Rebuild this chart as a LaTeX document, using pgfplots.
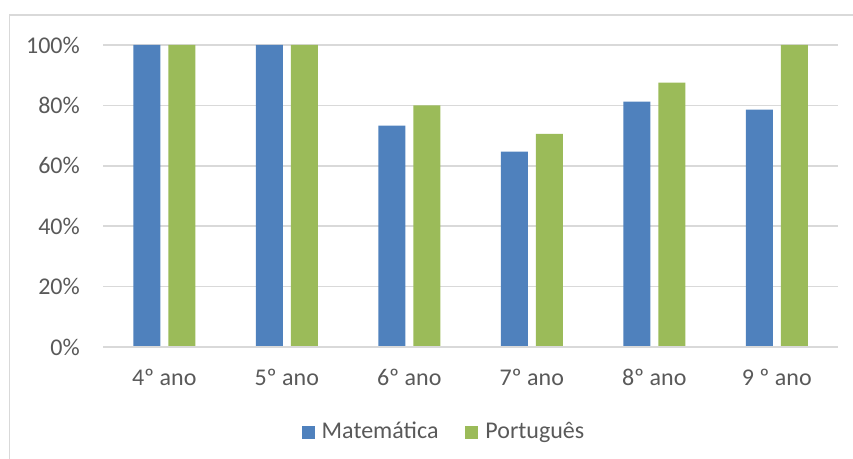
\documentclass[border=0pt]{standalone}
\usepackage{pgfplots}
\pgfplotsset{compat=1.18}
\usepackage{fontspec}
\setmainfont{Carlito}
\definecolor{mblue}{HTML}{4F81BD}
\definecolor{mgreen}{HTML}{9BBB59}
\definecolor{gridc}{HTML}{D9D9D9}
\definecolor{txt}{HTML}{595959}
\begin{document}
\fontsize{24}{28}\selectfont
\begin{tikzpicture}
\path[use as bounding box] (0,0) rectangle (853pt,458pt);
\draw[gridc, line width=1.5pt] (9.5pt,-10pt) |- (870pt,443pt);
\begin{axis}[
  at={(103pt,111pt)}, anchor=south west,
  scale only axis, width=735pt, height=302pt,
  xmin=-0.5, xmax=5.5, ymin=0, ymax=100,
  ybar=8pt, bar width=27pt,
  axis line style={draw=none},
  axis x line*=bottom,
  xtick={0,1,2,3,4,5},
  xticklabels={4º ano,5º ano,6º ano,7º ano,8º ano,9 º ano},
  ytick={0,20,40,60,80,100},
  yticklabel={\pgfmathprintnumber{\tick}\%},
  /pgf/number format/assume math mode=true,
  major tick length=0pt,
  tick style={draw=none},
  ymajorgrids, grid style={gridc, line width=1.5pt},
  ticklabel style={font=\fontsize{24}{28}\selectfont, text=txt, inner sep=0pt},
  xticklabel style={anchor=north, yshift=-22pt},
  yticklabel style={anchor=east, xshift=-23pt},
  legend style={at={(340pt,-85pt)}, anchor=center, draw=none, fill=none,
    legend columns=2, font=\fontsize{24}{28}\selectfont, text=txt,
    nodes={inner xsep=0pt},
    /tikz/every even column/.append style={column sep=27pt}},
  legend cell align=left,
  legend image code/.code={\fill[#1] (0pt,-6.5pt) rectangle (13pt,6.5pt); \path[draw=none,fill=none] (0pt,0pt) -- (20pt,0pt);},
]
\addplot[fill=mblue, draw=none] coordinates {(0,100) (1,100) (2,73.3) (3,64.7) (4,81.25) (5,78.6)};
\addplot[fill=mgreen, draw=none] coordinates {(0,100) (1,100) (2,80) (3,70.6) (4,87.5) (5,100)};
\draw[gridc, line width=1.5pt] (axis cs:-0.5,0) -- (axis cs:5.5,0);
\legend{Matemática, Português}
\end{axis}
\end{tikzpicture}
\end{document}
